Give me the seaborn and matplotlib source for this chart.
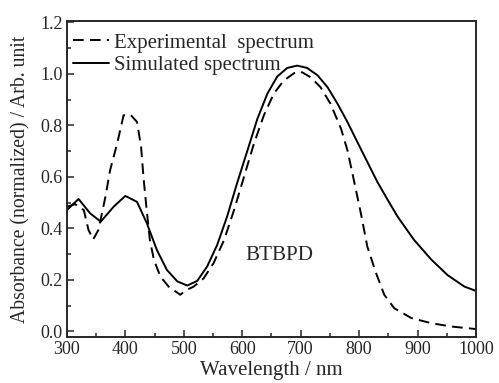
import numpy as np
import pandas as pd
import matplotlib
matplotlib.use("Agg")
import matplotlib.pyplot as plt
import seaborn as sns
from matplotlib.ticker import MultipleLocator

sns.set_style("ticks")
plt.rcParams['font.family'] = ['Liberation Serif', 'DejaVu Serif']

# experimental spectrum (dashed)
exp_wl = [300, 314, 329, 337, 345, 354, 366, 374, 386, 397, 409, 420, 427, 431,
          436, 442, 449, 460, 474, 486, 494, 503, 517, 534, 551, 569, 586, 603,
          620, 637, 654, 671, 689, 700, 717, 734, 751, 769, 780, 791, 803, 814,
          829, 843, 860, 889, 923, 957, 1000]
exp_abs = [0.484, 0.494, 0.471, 0.394, 0.357, 0.394, 0.523, 0.626, 0.729, 0.839,
           0.841, 0.813, 0.716, 0.60, 0.484, 0.355, 0.277, 0.213, 0.174, 0.155,
           0.142, 0.159, 0.174, 0.206, 0.265, 0.355, 0.471, 0.60, 0.729, 0.839,
           0.923, 0.974, 1.003, 1.009, 0.987, 0.948, 0.884, 0.787, 0.703, 0.587,
           0.458, 0.329, 0.226, 0.142, 0.09, 0.052, 0.032, 0.019, 0.009]

# simulated spectrum (solid)
sim_wl = [300, 320, 340, 358, 380, 400, 420, 437, 454, 471, 489, 506, 523, 540,
          557, 574, 591, 609, 626, 643, 660, 677, 694, 711, 729, 746, 763, 780,
          797, 814, 831, 849, 866, 894, 923, 951, 980, 1000]
sim_abs = [0.471, 0.514, 0.458, 0.426, 0.484, 0.526, 0.503, 0.419, 0.316, 0.239,
           0.194, 0.178, 0.196, 0.252, 0.335, 0.445, 0.574, 0.703, 0.826, 0.923,
           0.99, 1.023, 1.032, 1.023, 0.994, 0.948, 0.884, 0.813, 0.735, 0.658,
           0.581, 0.51, 0.445, 0.355, 0.28, 0.219, 0.174, 0.157]

fig = plt.figure(figsize=(4.99, 3.83), dpi=100)
ax = fig.add_axes([0.134, 0.12, 0.82, 0.825])

sns.lineplot(x=exp_wl, y=exp_abs, ax=ax, color='black', linewidth=1.4,
             label='Experimental  spectrum')
ax.lines[-1].set_dashes((5.5, 3.2))
sns.lineplot(x=sim_wl, y=sim_abs, ax=ax, color='black', linewidth=1.4,
             label='Simulated spectrum')

ax.set_xlim(300, 1000)
ax.set_ylim(-0.022, 1.205)
ax.xaxis.set_major_locator(MultipleLocator(100))
ax.xaxis.set_minor_locator(MultipleLocator(50))
ax.yaxis.set_minor_locator(MultipleLocator(0.1))
yt = np.arange(0, 1.21, 0.2)
ax.set_yticks(yt)
ax.set_yticklabels([f'{v:.1f}' for v in yt])
ax.tick_params(which='major', direction='in', length=5, width=1.1, labelsize=13, pad=3)
ax.tick_params(which='minor', direction='in', length=3, width=1.1)
for s in ax.spines.values():
    s.set_linewidth(1.4)

ax.set_xlabel('Wavelength / nm', fontsize=15, labelpad=2)
ax.set_ylabel('Absorbance (normalized) / Arb. unit', fontsize=14.2, labelpad=7)

ax.text(605, 0.293, 'BTBPD', fontsize=15.2, va='center', ha='left')

ax.legend(loc='upper left', bbox_to_anchor=(-0.01, 0.995), frameon=False,
          fontsize=15, handlelength=1.7, handletextpad=0.25, borderaxespad=0.3,
          borderpad=0.2, labelspacing=0.15)

fig.savefig('out.png', dpi=100)
